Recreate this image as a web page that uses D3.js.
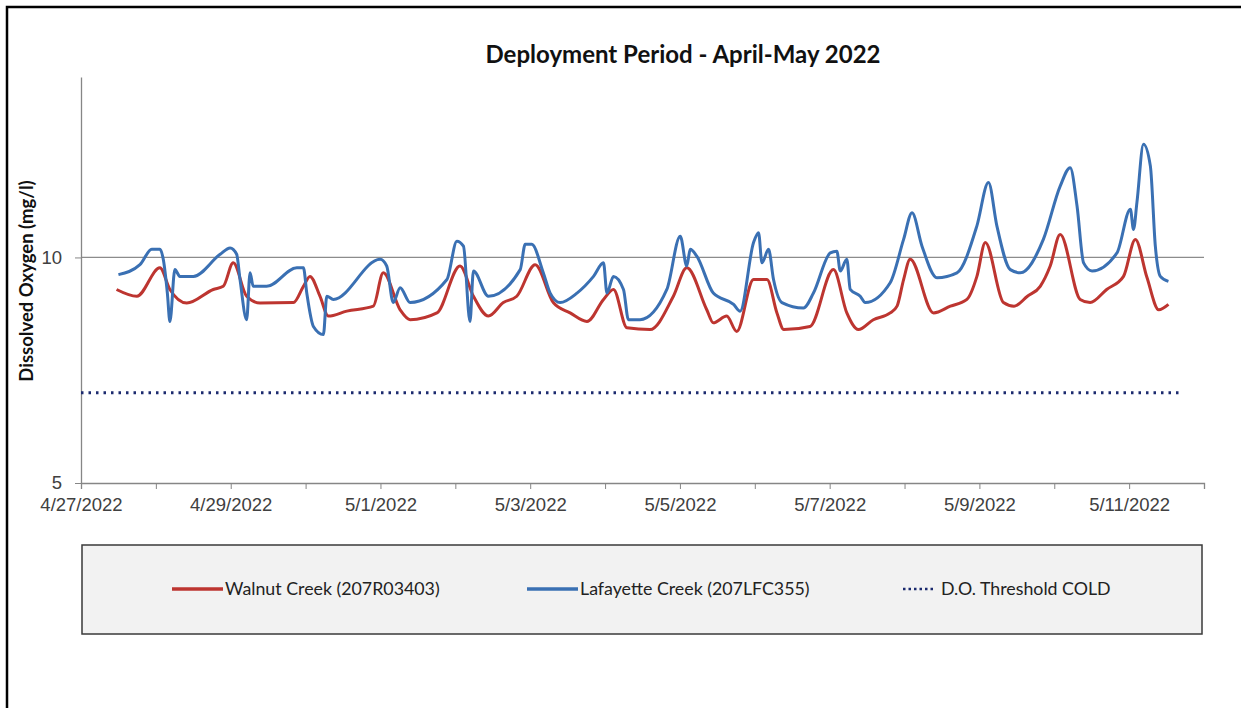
<!DOCTYPE html>
<html>
<head>
<meta charset="utf-8">
<script src="https://cdn.jsdelivr.net/npm/d3@7"></script>
<style>
  body { margin: 0; background: #fff; }
  svg { display: block; font-family: Lato, 'Open Sans', sans-serif; }
  .axis path, .axis line { stroke: #868686; }
  .axis text { fill: #404040; font-size: 18.5px; }
</style>
</head>
<body>
<svg id="chart" width="1241" height="708"></svg>
<script>
// hours after 4/27/2022 00:00
const walnutHours = [11.4, 17.9, 25.3, 28.5, 33.9, 42.4, 45.6, 48.8, 53.1, 57.4, 68.1, 71.3, 73.4, 76.6, 79.3,
  85.2, 93.7, 96.9, 102.3, 105.5, 114.1, 121.5, 125.8, 130.6, 135.4, 139.7, 145.6, 151.4, 156.8, 162.2,
  167.5, 170.7, 175.0, 182.4, 189.9, 194.2, 200.6, 202.7, 207.0, 210.2, 215.6, 219.9, 223.1, 225.3, 233.7,
  241.2, 245.5, 249.2, 254.0, 259.4, 261.6, 263.7, 265.8, 273.3, 278.7, 284.0, 287.2, 289.9, 295.7, 299.1,
  303.4, 307.5, 310.7, 313.9, 320.3, 323.5, 328.8, 334.2, 338.0, 341.7, 345.5, 348.6];
const walnutDO = [9.29, 9.14, 9.77, 9.29, 8.99, 9.29, 9.36, 9.88, 9.14, 8.99, 9.0, 9.36, 9.58, 9.14, 8.70,
  8.81, 8.92, 9.66, 8.84, 8.62, 8.77, 9.81, 9.14, 8.70, 9.0, 9.14, 9.84, 9.0, 8.77, 8.58,
  9.07, 9.29, 8.44, 8.40, 9.14, 9.77, 8.84, 8.55, 8.70, 8.36, 9.51, 9.51, 8.77, 8.40, 8.47,
  9.73, 8.77, 8.40, 8.62, 8.77, 8.92, 9.51, 9.96, 8.77, 8.92, 9.07, 9.58, 10.33, 9.0, 8.92,
  9.14, 9.36, 9.81, 10.51, 9.07, 9.0, 9.29, 9.58, 10.40, 9.56, 8.84, 8.96];

const lafayetteHours = [12.0, 18.9, 22.7, 25.3, 26.4, 27.7, 28.5, 30.1, 31.7, 36.0, 44.6, 47.8, 49.9, 51.0, 53.1,
  54.2, 55.2, 59.5, 69.2, 71.3, 72.4, 74.5, 77.7, 78.8, 80.9, 95.9, 98.0, 100.1, 102.3, 105.5,
  117.3, 120.5, 122.6, 124.7, 125.8, 130.6, 140.8, 142.4, 144.5, 148.2, 150.4, 153.6, 159.0, 164.3, 167.5,
  168.6, 170.7, 173.9, 175.5, 179.2, 187.8, 192.1, 194.2, 195.3, 197.4, 202.7, 209.2, 211.3, 215.6, 217.2,
  218.3, 220.4, 222.0, 224.7, 231.6, 234.8, 240.2, 242.3, 243.4, 245.5, 246.6, 249.8, 251.4, 259.4, 263.7,
  266.4, 269.6, 274.4, 280.8, 287.2, 290.9, 293.6, 297.9, 301.1, 308.5, 313.9, 317.1, 319.3, 321.4, 324.1,
  332.1, 336.4, 337.4, 338.5, 340.6, 342.8, 344.4, 346.0, 348.6];
const lafayetteDO = [9.62, 9.84, 10.18, 10.18, 9.95, 9.2, 8.58, 9.73, 9.58, 9.58, 10.07, 10.21, 10.07, 9.5, 8.62,
  9.66, 9.36, 9.36, 9.77, 9.77, 9.2, 8.47, 8.29, 9.14, 9.07, 9.96, 9.81, 9.0, 9.33, 9.0,
  9.51, 10.36, 10.25, 8.58, 9.70, 9.14, 9.73, 10.29, 10.29, 9.66, 9.21, 9.0, 9.21, 9.58, 9.88,
  9.21, 9.58, 9.29, 8.62, 8.62, 9.29, 10.47, 9.81, 10.18, 10.03, 9.21, 8.96, 8.81, 10.33, 10.55,
  9.88, 10.18, 9.51, 9.0, 8.88, 9.21, 10.10, 10.14, 9.70, 9.96, 9.29, 9.14, 9.0, 9.44, 10.40,
  10.99, 10.25, 9.55, 9.66, 10.70, 11.66, 10.70, 9.73, 9.66, 10.40, 11.58, 11.99, 11.14, 9.88, 9.70,
  10.10, 11.07, 10.62, 11.22, 12.51, 12.03, 10.25, 9.58, 9.47];

const thresholdHours = [0, 352];
const thresholdDO = [7, 7];

const yTicks = [5, 10];
const seriesNames = ['Walnut Creek (207R03403)', 'Lafayette Creek (207LFC355)', 'D.O. Threshold COLD'];

const start = new Date(2022, 3, 27);
const toDate = h => new Date(start.getTime() + h * 3600 * 1000);

const svg = d3.select('#chart');

// outer frame
svg.append('rect')
  .attr('x', 7).attr('y', 7)
  .attr('width', 1260).attr('height', 740)
  .attr('fill', 'none').attr('stroke', '#000').attr('stroke-width', 2.5);

const x = d3.scaleTime()
  .domain([start, new Date(2022, 4, 12)])
  .range([81, 1204]);
const y = d3.scaleLinear()
  .domain([5, 14])
  .range([483, 77]);

svg.append('text')
  .attr('x', 683).attr('y', 63)
  .attr('text-anchor', 'middle')
  .attr('font-size', 24).attr('font-weight', 'bold').attr('fill', '#111')
  .text('Deployment Period - April-May 2022');

// gridline at 10
svg.append('g')
  .selectAll('line')
  .data(yTicks.filter(d => d > 5))
  .enter().append('line')
    .attr('x1', 81).attr('x2', 1204)
    .attr('y1', d => y(d)).attr('y2', d => y(d))
    .attr('stroke', '#8c8c8c').attr('stroke-width', 1.2);

const fmt = d3.timeFormat('%-m/%-d/%Y');
const xAxis = svg.append('g')
  .attr('class', 'axis')
  .attr('transform', 'translate(0,483)')
  .call(d3.axisBottom(x)
    .ticks(d3.timeDay.every(1))
    .tickSizeOuter(0)
    .tickSize(6)
    .tickFormat((d, i) => i % 2 ? '' : fmt(d)));
xAxis.selectAll('text').attr('dy', '1.05em');
xAxis.select('.domain').attr('stroke-width', 1.3);

const yAxis = svg.append('g')
  .attr('class', 'axis')
  .attr('transform', 'translate(81,0)')
  .call(d3.axisLeft(y).tickValues(yTicks).tickSize(6).tickSizeOuter(0).tickPadding(13));
yAxis.select('.domain').attr('stroke-width', 1.3);

svg.append('text')
  .attr('transform', 'translate(33,281) rotate(-90)')
  .attr('text-anchor', 'middle')
  .attr('font-size', 18.5).attr('font-weight', 'bold').attr('fill', '#111')
  .text('Dissolved Oxygen (mg/l)');

const line = d3.line()
  .x(d => x(toDate(d[0])))
  .y(d => y(d[1]))
  .curve(d3.curveMonotoneX);

svg.append('path')
  .datum(thresholdHours.map((h, i) => [h, thresholdDO[i]]))
  .attr('d', line)
  .attr('fill', 'none')
  .attr('stroke', '#1b2a6e')
  .attr('stroke-width', 3)
  .attr('stroke-dasharray', '2.5 5');

svg.append('path')
  .datum(walnutHours.map((h, i) => [h, walnutDO[i]]))
  .attr('d', line)
  .attr('fill', 'none')
  .attr('stroke', '#bd3530')
  .attr('stroke-width', 3)
  .attr('stroke-linejoin', 'round');

svg.append('path')
  .datum(lafayetteHours.map((h, i) => [h, lafayetteDO[i]]))
  .attr('d', line)
  .attr('fill', 'none')
  .attr('stroke', '#3a70b3')
  .attr('stroke-width', 3)
  .attr('stroke-linejoin', 'round');

// legend
const legend = svg.append('g');
legend.append('rect')
  .attr('x', 82).attr('y', 545)
  .attr('width', 1120).attr('height', 89)
  .attr('fill', '#f2f2f2').attr('stroke', '#3a3a3a').attr('stroke-width', 1.5);

const legendItems = [
  { name: seriesNames[0], x: 172, color: '#bd3530', dash: null },
  { name: seriesNames[1], x: 527, color: '#3a70b3', dash: null },
  { name: seriesNames[2], x: 903, color: '#1b2a6e', dash: '2.5 3' }
];
const item = legend.selectAll('g.item')
  .data(legendItems)
  .enter().append('g')
    .attr('class', 'item')
    .attr('transform', d => 'translate(' + d.x + ',589)');
item.append('line')
  .attr('x1', 0).attr('x2', d => d.dash ? 33 : 51)
  .attr('stroke', d => d.color)
  .attr('stroke-width', d => d.dash ? 2.5 : 3.5)
  .attr('stroke-dasharray', d => d.dash);
item.append('text')
  .attr('x', d => d.dash ? 38 : 53)
  .attr('dy', '0.35em')
  .attr('font-size', 17.8)
  .attr('fill', '#222')
  .text(d => d.name);
</script>
</body>
</html>
